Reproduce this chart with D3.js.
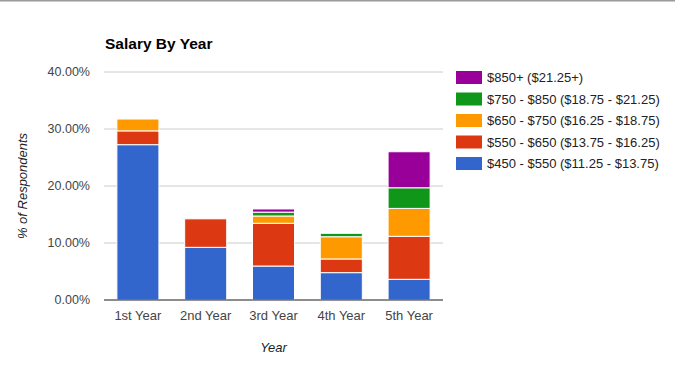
<html>
<head>
<meta charset="utf-8"/>
<title>Salary By Year</title>
<style>
body { margin: 0; background: #fff; }
text { font-family: Arial, "Liberation Sans", sans-serif; }
</style>
</head>
<body>
<div id="chart"></div>
<script src="https://d3js.org/d3.v7.min.js"></script>
<script>

// data, % of respondents per year
var years = ["1st Year", "2nd Year", "3rd Year", "4th Year", "5th Year"]
var bands = [
  "$450 - $550 ($11.25 - $13.75)",
  "$550 - $650 ($13.75 - $16.25)",
  "$650 - $750 ($16.25 - $18.75)",
  "$750 - $850 ($18.75 - $21.25)",
  "$850+ ($21.25+)"
]
var band450 = [27.25, 9.24, 5.96, 4.80, 3.63]
var band550 = [2.42, 5.00, 7.50, 2.40, 7.54]
var band650 = [2.08, 0, 1.28, 3.90, 4.90]
var band750 = [0, 0, 0.68, 0.60, 3.62]
var band850 = [0, 0, 0.55, 0, 6.32]
var yTicks = [0, 10, 20, 30, 40]
var colors = ["#3366cc", "#dc3912", "#ff9900", "#109618", "#990099"]

var width = 675, height = 373
// plot area (note: "top" is taken by window.top, so use other names)
var plotL = 104, plotR = 443, plotT = 72, plotB = 300

var svg = d3.select("#chart").append("svg")
    .attr("width", width)
    .attr("height", height)

// thin grey line along the top edge
svg.append("rect").attr("x", 0).attr("y", 0).attr("width", width).attr("height", 1.5).attr("fill", "#9a9a9a")

// build rows for the stack
var series = [band450, band550, band650, band750, band850]
var rows = years.map(function(y, i) {
  var r = {year: y}
  bands.forEach(function(b, j) { r[b] = series[j][i] })
  return r
})
var stacked = d3.stack().keys(bands)(rows)

var x = d3.scaleBand().domain(years).range([plotL, plotR]).paddingInner(0.38).paddingOuter(0.19)
var y = d3.scaleLinear().domain([0, 40]).range([plotB, plotT])

// gridlines
svg.append("g").selectAll("line")
  .data(yTicks)
  .enter().append("line")
    .attr("x1", plotL).attr("x2", plotR)
    .attr("y1", function(d) { return y(d) }).attr("y2", function(d) { return y(d) })
    .attr("stroke", "#cccccc")

// y tick labels
svg.append("g").selectAll("text")
  .data(yTicks)
  .enter().append("text")
    .attr("x", 90).attr("y", function(d) { return y(d) })
    .attr("dy", "0.35em")
    .attr("text-anchor", "end")
    .attr("font-size", "12.5px")
    .attr("fill", "#444")
    .text(function(d) { return d.toFixed(2) + "%" })

// bars
svg.append("g").selectAll("g")
  .data(stacked)
  .enter().append("g")
    .attr("fill", function(d, i) { return colors[i] })
  .selectAll("rect")
  .data(function(d) { return d.filter(function(s) { return s[1] - s[0] > 0 }) })
  .enter().append("rect")
    .attr("x", function(d) { return x(d.data.year) })
    .attr("y", function(d) { return y(d[1]) })
    .attr("width", x.bandwidth())
    .attr("height", function(d) { return y(d[0]) - y(d[1]) })
    .attr("stroke", "#fff")
    .attr("stroke-width", 1)

// baseline
svg.append("line")
  .attr("x1", plotL).attr("x2", plotR)
  .attr("y1", plotB).attr("y2", plotB)
  .attr("stroke", "#333")

// x labels
svg.append("g").selectAll("text")
  .data(years)
  .enter().append("text")
    .attr("x", function(d) { return x(d) + x.bandwidth() / 2 })
    .attr("y", 320)
    .attr("text-anchor", "middle")
    .attr("font-size", "13px")
    .attr("fill", "#444")
    .text(function(d) { return d })

// axis titles
svg.append("text")
  .attr("x", (plotL + plotR) / 2).attr("y", 352)
  .attr("text-anchor", "middle")
  .attr("font-size", "13px")
  .attr("font-style", "italic")
  .attr("fill", "#222")
  .text("Year")

svg.append("text")
  .attr("transform", "translate(27," + (plotT + plotB) / 2 + ") rotate(-90)")
  .attr("text-anchor", "middle")
  .attr("font-size", "13px")
  .attr("font-style", "italic")
  .attr("fill", "#222")
  .text("% of Respondents")

// title
svg.append("text")
  .attr("x", 105).attr("y", 49)
  .attr("font-size", "15.5px")
  .attr("font-weight", "bold")
  .attr("fill", "#000")
  .text("Salary By Year")

// legend, top entry is the last band
var legend = svg.append("g").selectAll("g")
  .data(bands.slice().reverse())
  .enter().append("g")
    .attr("transform", function(d, i) { return "translate(456," + (71 + i * 21.5) + ")" })

legend.append("rect")
  .attr("width", 26).attr("height", 13)
  .attr("fill", function(d) { return colors[bands.indexOf(d)] })

legend.append("text")
  .attr("x", 31).attr("y", 6.5)
  .attr("dy", "0.35em")
  .attr("font-size", "13px")
  .attr("fill", "#222")
  .text(function(d) { return d })

</script>
</body>
</html>
